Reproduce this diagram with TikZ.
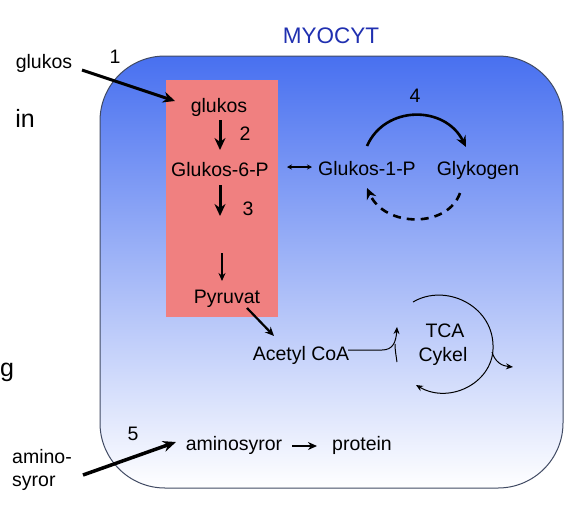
\documentclass[tikz,border=0pt]{standalone}
\usepackage{fontspec}
\setmainfont{Liberation Sans}
\usetikzlibrary{arrows.meta}
\definecolor{cellblue}{RGB}{72,112,240}
\definecolor{cellborder}{RGB}{65,75,100}
\definecolor{pinkc}{RGB}{240,128,128}
\definecolor{titleblue}{RGB}{32,48,176}
\begin{document}
\begin{tikzpicture}[x=1pt,y=-1pt,
  lab/.style={anchor=base,inner sep=0pt,font=\fontsize{19.5}{22}\selectfont},
  labw/.style={anchor=base west,inner sep=0pt,font=\fontsize{19.5}{22}\selectfont},
  biglab/.style={anchor=base,inner sep=0pt,font=\fontsize{25}{28}\selectfont},
  thickarr/.style={line width=3pt,-{Stealth[length=12pt,width=11pt]}},
  midarr/.style={line width=2.2pt,-{Stealth[length=9pt,width=8pt]}},
  thinarr/.style={line width=1pt,-{Stealth[length=7pt,width=6pt]}}
]
\useasboundingbox (0,0) rectangle (574,507);
% cell
\draw[rounded corners=65pt, draw=cellborder, line width=1pt, top color=cellblue, bottom color=white]
  (100,56) rectangle (563,488);
% glycolysis box
\fill[pinkc] (166,80) rectangle (278,317);

% texts
\node[lab, text=titleblue, font=\fontsize{22.5}{25}\selectfont] (title) at (331,43) {MYOCYT};
\node[lab] (gout) at (44,68) {glukos};
\node[lab] (n1) at (115,63) {1};
\node[biglab] (in) at (25,127) {in};
\node[biglab] (gg) at (7,376) {g};
\node[labw] (amino) at (12,463) {amino-};
\node[labw] (syror) at (12,486) {syror};
\node[lab] (n5) at (133,440) {5};

\node[lab] (g0) at (219,112) {glukos};
\node[lab] (n2) at (245,140) {2};
\node[lab] (g6) at (220,176) {Glukos-6-P};
\node[lab] (n3) at (248,215) {3};
\node[lab] (pyr) at (227,303) {Pyruvat};
\node[lab] (acc) at (301,360) {Acetyl CoA};
\node[lab] (g1) at (367,175) {Glukos-1-P};
\node[lab] (gly) at (478,175) {Glykogen};
\node[lab] (n4) at (415,102) {4};
\node[lab] (tca) at (445,337) {TCA};
\node[lab] (cyk) at (443,361) {Cykel};
\node[lab] (ams) at (234,450) {aminosyror};
\node[lab] (prot) at (362,450) {protein};

% connector end points
\coordinate (a1s) at (82,70);   \coordinate (a1e) at (175,101);
\coordinate (a2s) at (220,120); \coordinate (a2e) at (220,150);
\coordinate (a3s) at (220,185); \coordinate (a3e) at (220,216);
\coordinate (a4s) at (222,253); \coordinate (a4e) at (222,281);
\coordinate (pas) at (247,308); \coordinate (pae) at (274,336);
\coordinate (dbs) at (287,167); \coordinate (dbe) at (312,167);
\coordinate (gls) at (367,146); \coordinate (gle) at (466,147);
\coordinate (gds) at (460,193); \coordinate (gde) at (367,188);
\coordinate (acs) at (348,350); \coordinate (ace) at (397,327);
\coordinate (vts) at (397,362); \coordinate (vte) at (395,344);
\coordinate (tcs) at (413,302); \coordinate (tcr) at (493,345); \coordinate (tce) at (416,385);
\coordinate (exs) at (492,352); \coordinate (exe) at (513,367);
\coordinate (aps) at (292,446); \coordinate (ape) at (317,446);
\coordinate (a5s) at (83,475);  \coordinate (a5e) at (176,442);

% connectors
\draw[thickarr] (a1s) -- (a1e);
\draw[thickarr] (a2s) -- (a2e);
\draw[thickarr] (a3s) -- (a3e);
\draw[line width=1.6pt,-{Stealth[length=8pt,width=7pt]}] (a4s) -- (a4e);
\draw[midarr] (pas) -- (pae);
\draw[line width=1.1pt,{Stealth[length=5pt,width=5pt]}-{Stealth[length=5pt,width=5pt]}] (dbs) -- (dbe);
\draw[line width=2.6pt,-{Stealth[length=11pt,width=10pt]}] (gls) .. controls (385,105) and (445,105) .. (gle);
\draw[line width=2.6pt,dash pattern=on 8pt off 6pt,-{Stealth[length=11pt,width=10pt]}] (gds) .. controls (448,228) and (385,228) .. (gde);
\draw[thinarr] (acs) -- (382,350) .. controls (393,350) and (396,342) .. (ace);
\draw[line width=1pt] (vts) .. controls (396,355) and (395,350) .. (vte);
\draw[thinarr] (tcs) .. controls (445,283) and (492,305) .. (tcr) .. controls (495,382) and (450,405) .. (tce);
\draw[thinarr] (exs) .. controls (495,362) and (502,366) .. (exe);
\draw[midarr, line width=2pt] (aps) -- (ape);
\draw[line width=3.5pt,-{Stealth[length=13pt,width=11pt]}] (a5s) -- (a5e);
\end{tikzpicture}
\end{document}
